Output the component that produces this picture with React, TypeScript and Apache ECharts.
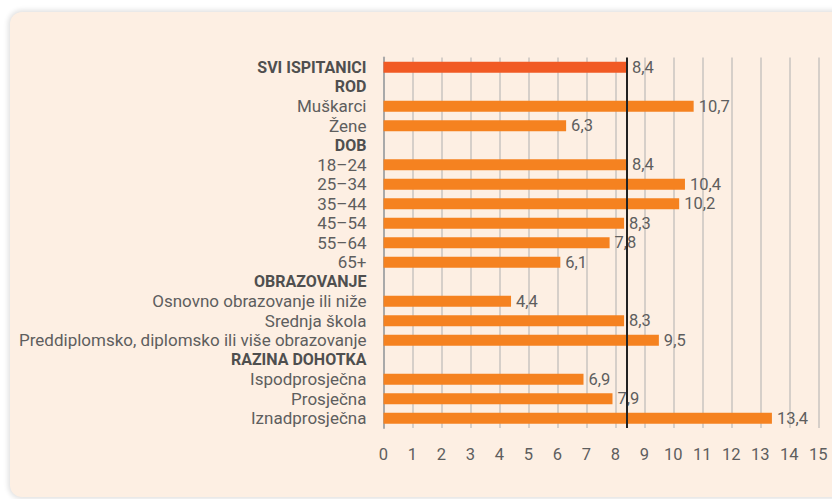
import React, { useEffect, useRef } from "react";
import * as echarts from "echarts";

const categories = [
  "SVI ISPITANICI",
  "ROD",
  "Muškarci",
  "Žene",
  "DOB",
  "18–24",
  "25–34",
  "35–44",
  "45–54",
  "55–64",
  "65+",
  "OBRAZOVANJE",
  "Osnovno obrazovanje ili niže",
  "Srednja škola",
  "Preddiplomsko, diplomsko ili više obrazovanje",
  "RAZINA DOHOTKA",
  "Ispodprosječna",
  "Prosječna",
  "Iznadprosječna",
];

const headings = ["SVI ISPITANICI", "ROD", "DOB", "OBRAZOVANJE", "RAZINA DOHOTKA"];

const values: (number | null)[] = [
  8.4, null, 10.7, 6.3, null, 8.4, 10.4, 10.2, 8.3, 7.8, 6.1, null, 4.4, 8.3, 9.5, null, 6.9, 7.9, 13.4,
];

const averageValue = 8.4;
const xTicks = { min: 0, max: 15, interval: 1 };

const FONT = "Roboto, 'Noto Sans', sans-serif";

export default function App() {
  const ref = useRef<HTMLDivElement>(null);

  useEffect(() => {
    if (!ref.current) return;
    const chart = echarts.init(ref.current, undefined, { renderer: "svg" });
    const data = values.map((v, i) =>
      v === null
        ? "-"
        : {
            value: v,
            itemStyle: { color: i === 0 ? "#F15A24" : "#F58220" },
          }
    );
    chart.setOption({
      animation: false,
      textStyle: { fontFamily: FONT },
      grid: { left: 383.5, right: 13.7, top: 57.5, bottom: 71, containLabel: false },
      xAxis: {
        type: "value",
        min: xTicks.min,
        max: xTicks.max,
        interval: xTicks.interval,
        axisLine: { show: false },
        axisTick: { show: false },
        splitLine: { show: true, lineStyle: { color: "#c9c5c1", width: 1.5 } },
        axisLabel: { color: "#5e5e5e", fontSize: 16.5, margin: 18, fontFamily: FONT },
      },
      yAxis: {
        type: "category",
        inverse: true,
        data: categories,
        axisLine: { show: true, lineStyle: { color: "#a9a9a9", width: 2 } },
        axisTick: { show: false },
        axisLabel: {
          interval: 0,
          margin: 17,
          fontSize: 17,
          color: "#5e5e5e",
          fontFamily: FONT,
          formatter: (v: string) => (headings.includes(v) ? `{h|${v}}` : v),
          rich: {
            h: { fontWeight: "bold", fontSize: 16, color: "#4f4f4f", fontFamily: FONT },
          },
        },
      },
      series: [
        {
          type: "bar",
          data,
          barWidth: 11,
          label: {
            show: true,
            position: "right",
            distance: 5,
            fontSize: 16.5,
            color: "#5e5e5e",
            fontFamily: FONT,
            formatter: (p: any) => String(p.value).replace(".", ","),
          },
          markLine: {
            silent: true,
            symbol: ["none", "none"],
            label: { show: false },
            lineStyle: { color: "#222", width: 2, type: "solid" },
            data: [{ xAxis: averageValue }],
          },
        },
      ],
    });
    return () => chart.dispose();
  }, []);

  return (
    <div
      style={{
        position: "fixed",
        left: 0,
        top: 0,
        width: 832,
        height: 499,
        background: "#ffffff",
        overflow: "hidden",
      }}
    >
      <div
        style={{
          position: "absolute",
          left: 10,
          top: 12,
          width: 860,
          height: 485,
          borderRadius: 12,
          background: "#FDEFE3",
          boxShadow: "0 0 5px 2px rgba(0,0,0,0.12)",
        }}
      />
      <div ref={ref} style={{ position: "absolute", left: 0, top: 0, width: 832, height: 499 }} />
    </div>
  );
}
